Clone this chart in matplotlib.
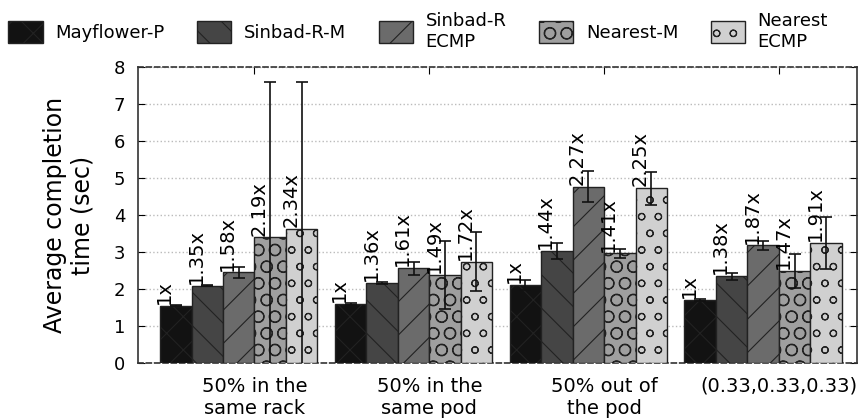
import numpy as np
import matplotlib
matplotlib.use("Agg")
import matplotlib.pyplot as plt

# traffic patterns
groups = ["50% in the\nsame rack", "50% in the\nsame pod", "50% out of\nthe pod", "(0.33,0.33,0.33)"]
schemes = ["Mayflower-P", "Sinbad-R-M", "Sinbad-R\nECMP", "Nearest-M", "Nearest\nECMP"]

# Mayflower-P average completion time (sec), the baseline
mayflower = [1.55, 1.59, 2.10, 1.70]

# slowdown relative to Mayflower-P
sinbad_m_ratio = [1.35, 1.36, 1.44, 1.38]
sinbad_ecmp_ratio = [1.58, 1.61, 2.27, 1.87]
nearest_m_ratio = [2.19, 1.49, 1.41, 1.47]
nearest_ecmp_ratio = [2.34, 1.72, 2.25, 1.91]

# std deviation (sec)
mayflower_err = [0.02, 0.02, 0.14, 0.02]
sinbad_m_err = [0.02, 0.02, 0.22, 0.09]
sinbad_ecmp_err = [0.15, 0.18, 0.42, 0.13]
nearest_m_err = [4.20, 0.92, 0.12, 0.46]
nearest_ecmp_err = [3.97, 0.80, 0.45, 0.71]

ratios = [[1.0] * len(groups), sinbad_m_ratio, sinbad_ecmp_ratio, nearest_m_ratio, nearest_ecmp_ratio]
errors = [mayflower_err, sinbad_m_err, sinbad_ecmp_err, nearest_m_err, nearest_ecmp_err]
colors = ["#121212", "#454545", "#6b6b6b", "#9f9f9f", "#d0d0d0"]
hatches = ["x", "\\", "/", "O", "o"]

plt.rcParams["hatch.linewidth"] = 0.8
plt.rcParams["font.family"] = "DejaVu Sans"

fig = plt.figure(figsize=(8.67, 4.2), dpi=100)
ax = fig.add_axes([0.159, 0.1357, 0.8295, 0.7048])

x = np.arange(len(groups))
w = 0.18
base = np.array(mayflower)

for i, name in enumerate(schemes):
    r = np.array(ratios[i])
    h = base * r
    pos = x + (i - 2) * w
    ax.bar(pos, h, w, color=colors[i], edgecolor="#222222", linewidth=1.0,
           hatch=hatches[i], label=name, zorder=3)
    ax.errorbar(pos, h, yerr=errors[i], fmt="none", ecolor="#111111",
                elinewidth=1.2, capsize=4, capthick=1.2, zorder=4)
    for px, py, rv in zip(pos, h, r):
        txt = "1x" if i == 0 else "%.2fx" % rv
        ax.text(px - 0.35 * w, py + 0.05, txt, rotation=90, ha="center",
                va="bottom", fontsize=14, zorder=5)

ax.set_xlim(-0.577, 3.537)
ax.set_ylim(0, 8)
ax.set_yticks(range(0, 9))
ax.set_xticks(x + w / 2)
ax.set_xticklabels(groups, fontsize=14)
ax.tick_params(axis="y", labelsize=13, direction="in", left=True, right=True, length=5, pad=9)
ax.tick_params(axis="x", bottom=False, top=True, direction="in", length=5, pad=10)
ax.set_ylabel("Average completion\ntime (sec)", fontsize=17, labelpad=14)

ax.grid(axis="y", linestyle=":", color="#bbbbbb", linewidth=1.0, zorder=0)
for s in ["left", "right"]:
    ax.spines[s].set_color("#333333")
    ax.spines[s].set_linewidth(1.2)
for s in ["top", "bottom"]:
    ax.spines[s].set_color("#333333")
    ax.spines[s].set_linewidth(1.2)
    ax.spines[s].set_linestyle((0, (3, 2)))

fig.legend(loc="upper left", bbox_to_anchor=(-0.004, 1.0), ncol=5, frameon=False,
           fontsize=13, handlelength=1.9, handleheight=1.45, handletextpad=0.7,
           columnspacing=1.8, borderaxespad=0.25)

fig.savefig("out.png", dpi=100)
